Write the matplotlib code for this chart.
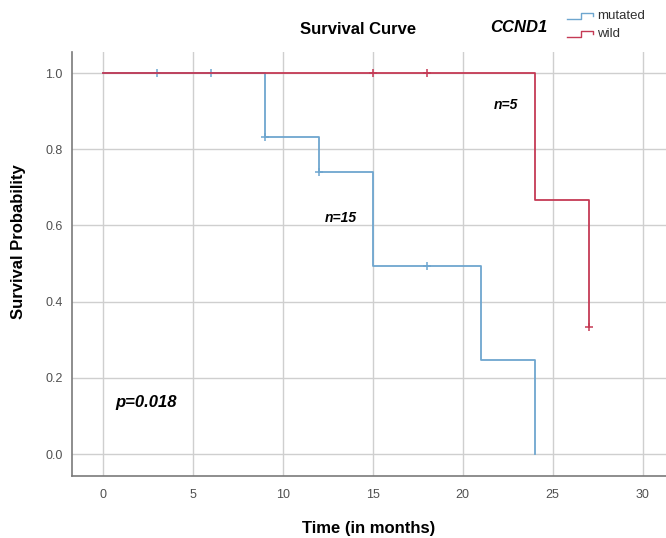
import matplotlib
matplotlib.use("Agg")
import matplotlib.pyplot as plt
from matplotlib.lines import Line2D

plt.rcParams["font.family"] = ["Liberation Sans", "DejaVu Sans"]

# Kaplan-Meier steps
mut_time = [0, 9, 12, 15, 21, 24]
mut_surv = [1.0, 0.833, 0.741, 0.494, 0.247, 0.0]
mut_cens_time = [3, 6, 9, 12, 18]
mut_cens_surv = [1.0, 1.0, 0.833, 0.741, 0.494]

wild_time = [0, 24, 27]
wild_surv = [1.0, 0.667, 0.333]
wild_cens_time = [15, 18, 27]
wild_cens_surv = [1.0, 1.0, 0.333]

x_ticks = [0, 5, 10, 15, 20, 25, 30]
y_ticks = [0.0, 0.2, 0.4, 0.6, 0.8, 1.0]

blue = "#6ea6cf"
red = "#c53a55"
grid = "#cfcfcf"
axis_col = "#7a7a7a"

fig = plt.figure(figsize=(6.66, 5.38), dpi=100)
ax = fig.add_axes([0.108, 0.115, 0.892, 0.788])

ax.set_xlim(-1.72, 31.3)
ax.set_ylim(-0.058, 1.055)
ax.set_xticks(x_ticks)
ax.set_yticks(y_ticks)
ax.set_yticklabels([f"{v:.1f}" for v in y_ticks])
ax.grid(True, color=grid, linewidth=1.0)
ax.set_axisbelow(True)

for s in ["top", "right"]:
    ax.spines[s].set_visible(False)
for s in ["left", "bottom"]:
    ax.spines[s].set_color(axis_col)
    ax.spines[s].set_linewidth(1.2)
ax.tick_params(length=0, labelsize=9, colors="#505050")
ax.tick_params(axis="x", pad=9)
ax.tick_params(axis="y", pad=6.5)

ax.step(mut_time, mut_surv, where="post", color=blue, linewidth=1.3)
ax.plot(mut_cens_time, mut_cens_surv, "+", color=blue, markersize=6, markeredgewidth=1.1)
ax.step(wild_time, wild_surv, where="post", color=red, linewidth=1.3)
ax.plot(wild_cens_time, wild_cens_surv, "+", color=red, markersize=6, markeredgewidth=1.1)

ax.text(22.4, 0.917, "n=5", fontsize=10, fontweight="bold", style="italic", ha="center", va="center")
ax.text(13.2, 0.62, "n=15", fontsize=10, fontweight="bold", style="italic", ha="center", va="center")
ax.text(0.67, 0.136, "p=0.018", fontsize=12, fontweight="bold", style="italic", ha="left", va="center")

ax.set_xlabel("Time (in months)", fontsize=12, fontweight="bold", labelpad=15)
fig.text(19 / 666, 1 - 242 / 538, "Survival Probability", fontsize=12, fontweight="bold",
         rotation=90, ha="center", va="center")

# title and group header
fig.text(358 / 666, 1 - 29 / 538, "Survival Curve", fontsize=12, fontweight="bold", ha="center", va="center")
fig.text(519 / 666, 1 - 27 / 538, "CCND1", fontsize=12, fontweight="bold", style="italic", ha="center", va="center")


# legend with step-shaped icons, drawn in pixel coordinates
def px(x, y):
    return x / 666, 1 - y / 538


legend_items = [("mutated", blue, 19), ("wild", red, 37)]
for label, col, yb in legend_items:
    xs = [567, 581, 581, 593, 593]
    ys = [yb, yb, yb - 6, yb - 6, yb - 3]
    pts = [px(a, b) for a, b in zip(xs, ys)]
    fig.add_artist(Line2D([p[0] for p in pts], [p[1] for p in pts], color=col, linewidth=1.0,
                          transform=fig.transFigure))
    fig.text(*px(597, yb - 3), label, fontsize=9.5, color="#303030", ha="left", va="center")

fig.savefig("out.png", dpi=100)
